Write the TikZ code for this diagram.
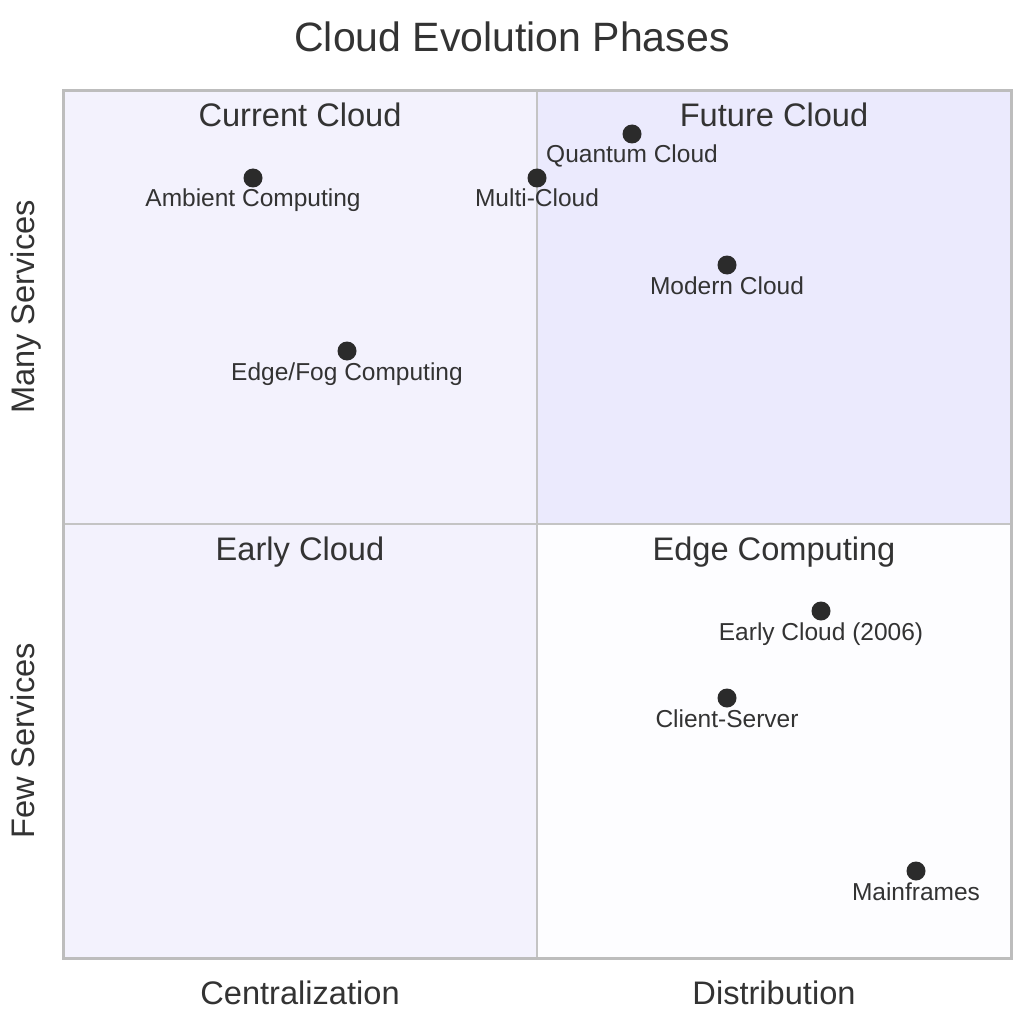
\documentclass[tikz,border=0pt]{standalone}
\usepackage{fontspec}
\setmainfont{Liberation Sans}
\definecolor{txt}{HTML}{333333}
\definecolor{dot}{HTML}{2B2B2B}
\definecolor{qone}{HTML}{EBEAFD}
\definecolor{qtwo}{HTML}{F3F2FD}
\definecolor{qthree}{HTML}{F3F2FD}
\definecolor{qfour}{HTML}{FDFDFF}
\definecolor{frame}{HTML}{BDBDBD}
\definecolor{inner}{HTML}{C4C4C4}
\begin{document}
\begin{tikzpicture}[x=1pt,y=-1pt,
  titlef/.style={font=\fontsize{41}{46}\selectfont, text=txt, anchor=base, inner sep=0pt},
  quadf/.style={font=\fontsize{32.6}{38}\selectfont, text=txt, anchor=base, inner sep=0pt},
  axisf/.style={font=\fontsize{32.6}{38}\selectfont, text=txt, anchor=base, inner sep=0pt},
  ptlab/.style={font=\fontsize{24.5}{28}\selectfont, text=txt, anchor=base, inner sep=0pt},
  pt/.style={circle, fill=dot, minimum size=19pt, inner sep=0pt}]
\useasboundingbox[fill=white] (0,0) rectangle (1024,1024);
% quadrants
\fill[qtwo] (63,91) rectangle (537,524);
\fill[qone] (537,91) rectangle (1011,524);
\fill[qthree] (63,524) rectangle (537,958);
\fill[qfour] (537,524) rectangle (1011,958);
\draw[inner, line width=1.5pt] (537,91) -- (537,958);
\draw[inner, line width=1.5pt] (63,524) -- (1011,524);
\draw[frame, line width=3pt] (63,91) rectangle (1011,958);
% title
\node[titlef] (title) at (512,52) {Cloud Evolution Phases};
% quadrant labels
\node[quadf] (q2) at (300,127) {Current Cloud};
\node[quadf] (q1) at (774,127) {Future Cloud};
\node[quadf] (q3) at (300,560) {Early Cloud};
\node[quadf] (q4) at (774,560) {Edge Computing};
% axis labels
\node[axisf] (xl) at (300,1004) {Centralization};
\node[axisf] (xr) at (774,1004) {Distribution};
\node[axisf, rotate=90] (yt) at (34,307) {Many Services};
\node[axisf, rotate=90] (yb) at (34,741) {Few Services};
% points
\node[pt] (p1) at (253,178) {};
\node[ptlab] (l1) at (253,207) {Ambient Computing};
\node[pt] (p2) at (537,178) {};
\node[ptlab] (l2) at (537,207) {Multi-Cloud};
\node[pt] (p3) at (632,134) {};
\node[ptlab] (l3) at (632,163) {Quantum Cloud};
\node[pt] (p4) at (727,265) {};
\node[ptlab] (l4) at (727,294) {Modern Cloud};
\node[pt] (p5) at (347,351) {};
\node[ptlab] (l5) at (347,380) {Edge/Fog Computing};
\node[pt] (p6) at (821,611) {};
\node[ptlab] (l6) at (821,640) {Early Cloud (2006)};
\node[pt] (p7) at (727,698) {};
\node[ptlab] (l7) at (727,727) {Client-Server};
\node[pt] (p8) at (916,871) {};
\node[ptlab] (l8) at (916,900) {Mainframes};
\end{tikzpicture}
\end{document}
